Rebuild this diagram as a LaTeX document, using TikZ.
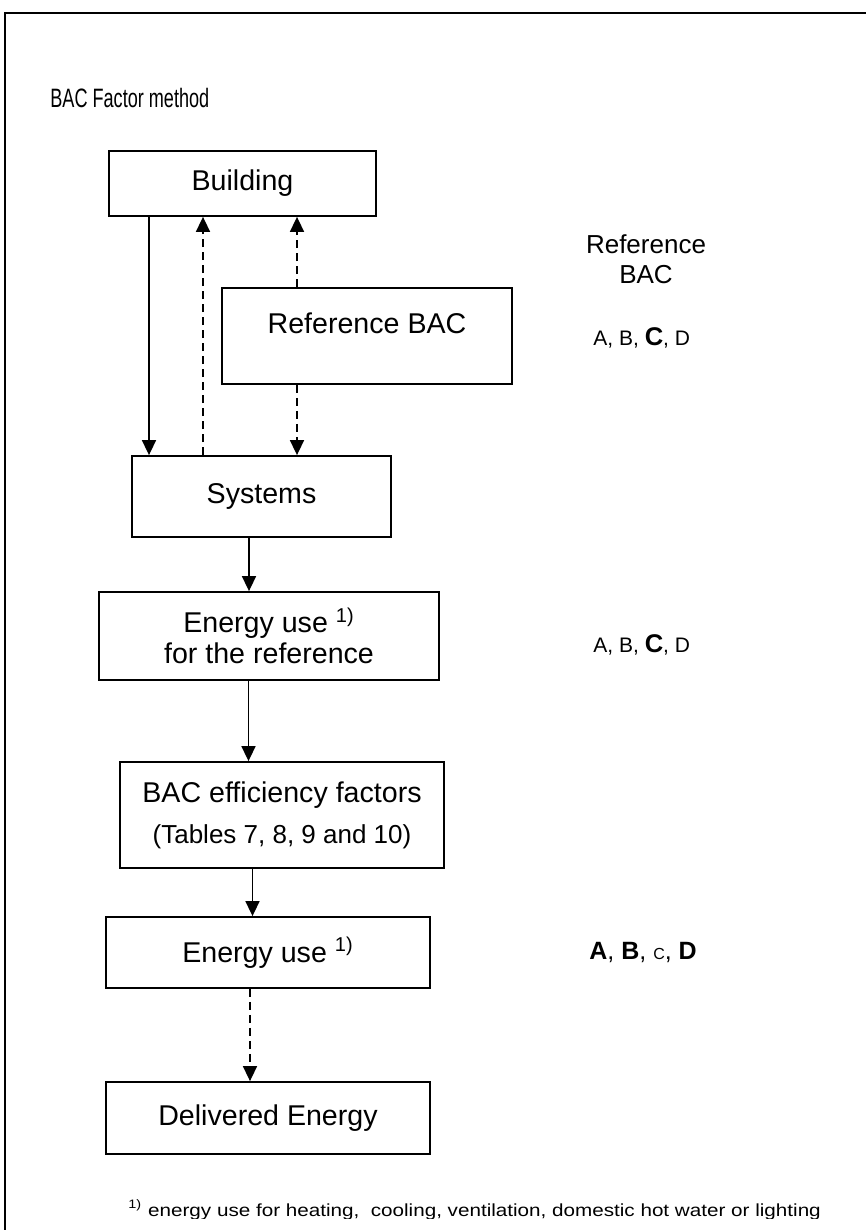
\documentclass[tikz,border=0pt]{standalone}
\usepackage{fontspec}
\setmainfont{Liberation Sans}
\usetikzlibrary{arrows.meta}

\tikzset{
  box/.style={draw, line width=0.9pt, inner sep=0pt, align=center,
    font=\fontsize{14.3pt}{15.5pt}\selectfont},
  flow/.style={line width=0.8pt, -{Triangle[width=7pt,length=7.5pt]}},
  dashline/.style={flow, dash pattern=on 4pt off 2.5pt},
  note/.style={inner sep=0pt, anchor=base west},
}

\begin{document}
\begin{tikzpicture}[x=0.5pt, y=-0.5pt]
    \useasboundingbox (0,0) rectangle (866,1230);
    % Frame round the figure
    \draw[line width=0.9pt] (866,13) -- (5,13) -- (5,1230);
    \node[note] (title) at (50,108)
        {\scalebox{0.68}[1]{\fontsize{13.3pt}{15pt}\selectfont BAC Factor method}};

    % Boxes of the method
    \node[box, minimum width=133.5pt, minimum height=32.5pt] (building) at (242.5,183.5) {Building};
    \node[box, minimum width=145pt, text height=22.5pt, text depth=25.5pt] (refbac) at (367,336) {Reference BAC};
    \node[box, minimum width=129.5pt, minimum height=40.5pt] (systems) at (261.5,496.5) {Systems};
    \node[box, minimum width=170pt, minimum height=44pt] (energyref) at (269,636)
        {Energy use \textsuperscript{1)}\\for the reference};
    \node[box, minimum width=162pt, minimum height=53pt] (bacfac) at (282,815)
        {BAC efficiency factors\\[5pt]{\fontsize{13pt}{15pt}\selectfont (Tables 7, 8, 9 and 10)}};
    \node[box, minimum width=162pt, minimum height=35.5pt] (energy) at (268,952.5) {Energy use \textsuperscript{1)}};
    \node[box, minimum width=162pt, minimum height=36pt] (delivered) at (268,1118) {Delivered Energy};

    % Columns of the connectors
    \coordinate (c1) at (149,0);
    \coordinate (c2) at (203,0);
    \coordinate (c3) at (297,0);
    \coordinate (c4) at (249,0);
    \coordinate (c5) at (248.5,0);
    \coordinate (c6) at (252.5,0);
    \coordinate (c7) at (250,0);

    % Connectors
    \draw[flow] (building.south -| c1) -- (systems.north -| c1);
    \draw[dashline] (systems.north -| c2) -- (building.south -| c2);
    \draw[dashline] (refbac.north -| c3) -- (building.south -| c3);
    \draw[dashline] (refbac.south -| c3) -- (systems.north -| c3);
    \draw[flow] (systems.south -| c4) -- (energyref.north -| c4);
    \draw[flow] (energyref.south -| c5) -- (bacfac.north -| c5);
    \draw[flow] (bacfac.south -| c6) -- (energy.north -| c6);
    \draw[dashline] (energy.south -| c7) -- (delivered.north -| c7);

    % Classes on the right
    \node[align=center, inner sep=0pt, font=\fontsize{13pt}{15pt}\selectfont] (refclass) at (646,259)
        {Reference\\BAC};
    \node[note, font=\fontsize{10.5pt}{12pt}\selectfont] (classa) at (593,345)
        {A, B, {\fontsize{12.8pt}{14pt}\selectfont\bfseries C}, D};
    \node[note, font=\fontsize{10.5pt}{12pt}\selectfont] (classb) at (593,652)
        {A, B, {\fontsize{12.8pt}{14pt}\selectfont\bfseries C}, D};
    \node[note, font=\fontsize{12.5pt}{14pt}\selectfont] (classc) at (589,959)
        {\textbf{A}, \textbf{B}, {\fontsize{8pt}{9pt}\selectfont C}, \textbf{D}};

    % Footnote, cut at the lower edge
    \begin{scope}
        \clip (0,0) rectangle (866,1218);
        \node[note] (footnote) at (128,1216)
            {\scalebox{1.18}[1]{\fontsize{8.75pt}{10pt}\selectfont\textsuperscript{1)} energy use for heating,\ \ cooling, ventilation, domestic hot water or lighting}};
    \end{scope}
\end{tikzpicture}
\end{document}
